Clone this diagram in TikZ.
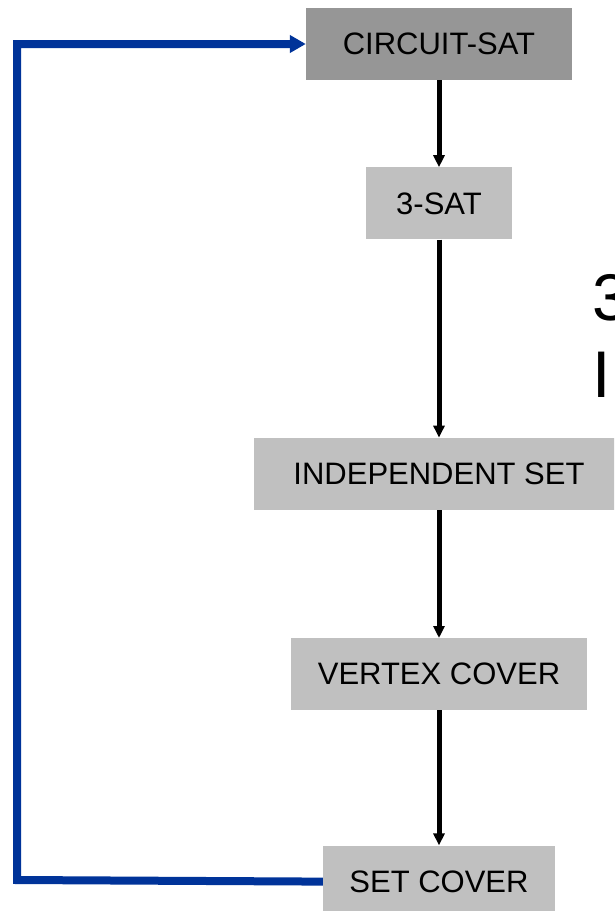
\documentclass[tikz,border=0pt]{standalone}
\usepackage{fontspec}
\setmainfont{Liberation Sans}
\usetikzlibrary{positioning}
\usetikzlibrary{arrows.meta}

\definecolor{darkbox}{HTML}{969696}
\definecolor{lightbox}{HTML}{C0C0C0}
\definecolor{loopblue}{HTML}{003399}

\begin{document}
\begin{tikzpicture}[x=1pt,y=1pt,
	problem/.style={rectangle,fill=lightbox,minimum height=72pt,inner sep=0pt,
		font=\fontsize{31}{37}\selectfont},
	reduce/.style={-{Triangle[length=12pt,width=11pt]},line width=5pt},
	feedback/.style={-{Triangle[length=16pt,width=17pt]},line width=8pt,draw=loopblue},
	bigtext/.style={anchor=base west,inner sep=0pt,font=\fontsize{66}{77}\selectfont}]
	
	\clip (0,0) rectangle (614,-911);
	
	\node[problem,fill=darkbox,minimum width=266pt] (cs) at (439,-44) {CIRCUIT-SAT};
	\node[problem,minimum width=146pt] (sat) [below=87pt of cs] {3-SAT};
	\node[problem,minimum width=370pt] (is) [below=198pt of sat] {INDEPENDENT SET};
	\node[problem,minimum width=296pt] (vc) [below=128pt of is] {VERTEX COVER};
	\node[problem,minimum width=232pt] (sc) [below=135pt of vc] {SET COVER};
	
	% cut-off title on the right
	\node[bigtext] (t3) at (592,-320) {3};
	\node[bigtext] (tI) at (592,-397) {I};
	
	\path[reduce]
	(cs) edge [] (sat)
	(sat) edge [] (is)
	(is) edge [] (vc)
	(vc) edge [] (sc);
	
	\coordinate (corner) at (17,-880);
	\draw[feedback] (sc.west) -- (corner) |- (cs.west);
\end{tikzpicture}
\end{document}
